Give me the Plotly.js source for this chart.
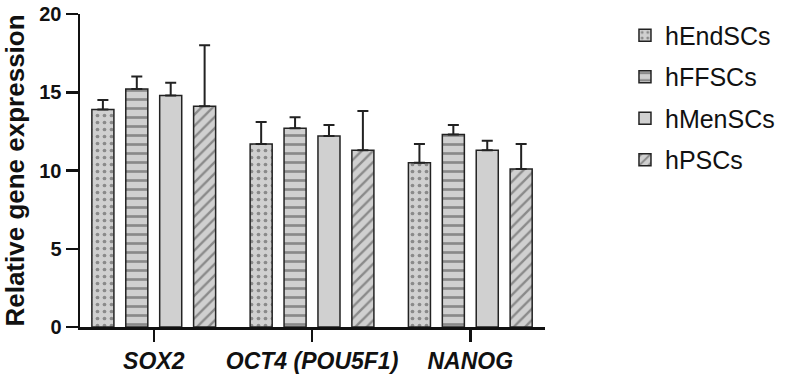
<!DOCTYPE html>
<html><head><meta charset="utf-8">
<script src="https://cdn.plot.ly/plotly-3.0.1.min.js"></script>
<style>html,body{margin:0;padding:0;background:#fff}</style>
</head><body>
<div id="chart" style="width:792px;height:376px"></div>
<script>
const categories = ['<i>SOX2</i>', '<i>OCT4 (POU5F1)</i>', '<i>NANOG</i>'];
const seriesNames = ['hEndSCs', 'hFFSCs', 'hMenSCs', 'hPSCs'];
const hEndSCs = [13.9, 11.7, 10.5];
const hEndSCsErr = [0.6, 1.4, 1.2];
const hFFSCs = [15.2, 12.7, 12.3];
const hFFSCsErr = [0.8, 0.7, 0.6];
const hMenSCs = [14.8, 12.2, 11.3];
const hMenSCsErr = [0.8, 0.7, 0.6];
const hPSCs = [14.1, 11.3, 10.1];
const hPSCsErr = [3.9, 2.5, 1.6];

const values = [hEndSCs, hFFSCs, hMenSCs, hPSCs];
const errs = [hEndSCsErr, hFFSCsErr, hMenSCsErr, hPSCsErr];
const shapes = ['.', '-', '', '/'];

const traces = seriesNames.map((n, i) => ({
  type: 'bar', name: n, x: categories, y: values[i], legendgroup: 'g' + i,
  marker: {
    color: '#d0d0d0',
    line: {color: '#222', width: 1.5},
    pattern: {shape: shapes[i], fgcolor: '#444', bgcolor: '#d0d0d0', fillmode: 'overlay',
              size: i === 0 ? 7 : (i === 1 ? 9 : 8), solidity: i === 0 ? 0.22 : 0.3}
  },
  error_y: {type: 'data', symmetric: false, array: errs[i], arrayminus: [0,0,0],
            color: '#222', thickness: 2, width: 5.5}
}));

const layout = {
  width: 792, height: 376,
  margin: {l: 80, r: 239, t: 14, b: 49},
  paper_bgcolor: '#fff', plot_bgcolor: '#fff',
  barmode: 'group', bargap: 0.143, bargroupgap: 0.35,
  font: {family: 'Arial, "Liberation Sans", sans-serif', color: '#111'},
  showlegend: true,
  legend: {x: 1.172, y: 1.005, xanchor: 'left', yanchor: 'top', traceorder: 'grouped',
           font: {size: 25, color: '#111'}, tracegroupgap: 6, itemwidth: 30},
  xaxis: {
    range: [-0.466, 2.472],
    showline: true, linecolor: '#111', linewidth: 2.5,
    ticks: 'outside', ticklen: 12, tickwidth: 2.5, tickcolor: '#111',
    tickfont: {size: 23, color: '#111', weight: 'bold'},
    showgrid: false, zeroline: false
  },
  yaxis: {
    range: [0, 20], dtick: 5,
    showline: true, linecolor: '#111', linewidth: 2.5,
    ticks: 'outside', ticklen: 12, tickwidth: 2.5, tickcolor: '#111',
    tickfont: {size: 20, color: '#111', weight: 'bold'},
    showgrid: false, zeroline: false,
    title: {text: '<b>Relative gene expression</b>', font: {size: 26, color: '#111'}, standoff: 16}
  }
};

Plotly.newPlot('chart', traces, layout, {displayModeBar: false, staticPlot: true});
</script>
</body></html>
